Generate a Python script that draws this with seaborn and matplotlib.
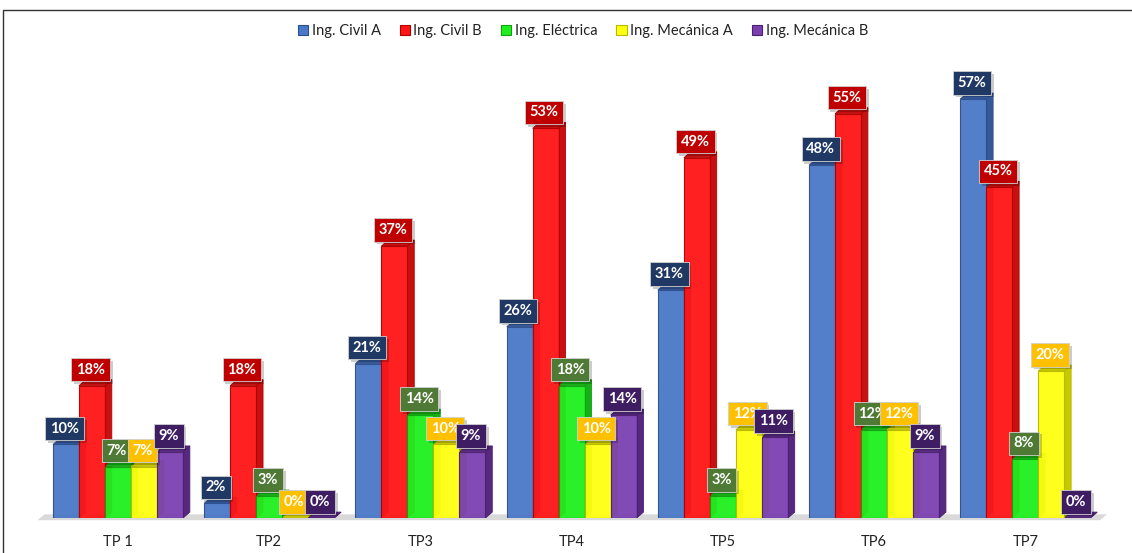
import numpy as np
import pandas as pd
import matplotlib
matplotlib.use("Agg")
import matplotlib.pyplot as plt
import matplotlib.patheffects as pe
from matplotlib.patches import Polygon, Rectangle, Patch
import seaborn as sns

# ---- data ----
categories = ["TP 1", "TP2", "TP3", "TP4", "TP5", "TP6", "TP7"]
series = ["Ing. Civil A", "Ing. Civil B", "Ing. Eléctrica", "Ing. Mecánica A", "Ing. Mecánica B"]
civil_a = [10, 2, 21, 26, 31, 48, 57]
civil_b = [18, 18, 37, 53, 49, 55, 45]
electrica = [7, 3, 14, 18, 3, 12, 8]
mecanica_a = [7, 0, 10, 10, 12, 12, 20]
mecanica_b = [9, 0, 9, 14, 11, 9, 0]

values = [civil_a, civil_b, electrica, mecanica_a, mecanica_b]
face_colors = ["#4A78C8", "#FF1515", "#1EF01E", "#FFFF10", "#7A40B0"]
side_colors = ["#34589A", "#C81010", "#15B015", "#C8C800", "#56287F"]
edge_colors = ["#2E4E8A", "#B00000", "#10A010", "#B8B800", "#4A2070"]
label_colors = ["#1F3864", "#C00000", "#4F7A35", "#FFC000", "#3F1D63"]

rows = []
for s, vals in zip(series, values):
    for c, v in zip(categories, vals):
        rows.append({"tp": c, "serie": s, "valor": v})
df = pd.DataFrame(rows)

sns.set_theme(style="white")
plt.rcParams["font.family"] = ["Lato", "DejaVu Sans"]

W, H = 1132, 553
fig = plt.figure(figsize=(W / 100, H / 100), dpi=100)
ax = fig.add_axes([30 / W, 1 - 518 / H, (1110 - 30) / W, (518 - 60) / H])

sns.barplot(data=df, x="tp", y="valor", hue="serie", hue_order=series,
            order=categories, palette=face_colors, saturation=1, width=0.86,
            ax=ax, legend=False, zorder=3)

ax.set_xlim(-0.582, 6.56)
ax.set_ylim(0, 62.3)

dx, dy = 0.045, 0.8
# floor
x0f, x1f = ax.get_xlim()
ax.add_patch(Polygon([(x0f + 0.05, -0.3), (x0f + 0.05 + dx, dy - 0.3), (x1f - 0.02, dy - 0.3), (x1f - 0.02 - dx, -0.3)],
                     closed=True, facecolor="#D9D9D9", edgecolor="none", zorder=0.5, clip_on=False))

shadow = [pe.withSimplePatchShadow(offset=(2, -2), shadow_rgbFace="#000000", alpha=0.2)]

for k, cont in enumerate(ax.containers):
    for p, v in zip(cont.patches, values[k]):
        p.set_edgecolor(edge_colors[k])
        p.set_linewidth(0.8)
        p.set_alpha(0.95)
        bx0 = p.get_x()
        bx1 = bx0 + p.get_width()
        h = p.get_height()
        side = Polygon([(bx1, 0), (bx1 + dx, dy), (bx1 + dx, h + dy), (bx1, h)], closed=True,
                       facecolor=side_colors[k], edgecolor=edge_colors[k], linewidth=0.6, zorder=1)
        top = Polygon([(bx0, h), (bx0 + dx, h + dy), (bx1 + dx, h + dy), (bx1, h)], closed=True,
                      facecolor=side_colors[k], edgecolor=edge_colors[k], linewidth=0.6, zorder=1.5)
        ax.add_patch(side)
        ax.add_patch(top)
        cx = bx0 + p.get_width() / 2
        t = ax.annotate(f"{v}%", (cx, h), xytext=(-1, 11.5), textcoords="offset points",
                        ha="center", va="center", color="white", fontsize=10.5, fontweight="bold",
                        bbox=dict(boxstyle="square,pad=0.32", facecolor=label_colors[k],
                                  edgecolor="#D0D0D0", linewidth=0.6),
                        zorder=5, annotation_clip=False)
        t.get_bbox_patch().set_path_effects(shadow)

ax.set_xlabel("")
ax.set_ylabel("")
ax.set_yticks([])
ax.tick_params(axis="x", length=0, pad=12, labelsize=10.5, labelcolor="#222222")
for s in ax.spines.values():
    s.set_visible(False)
ax.set_facecolor("none")

# legend
handles = [Patch(facecolor=fc, edgecolor=ec, linewidth=0.8) for fc, ec in zip(face_colors, edge_colors)]
fig.legend(handles, series, loc="center", bbox_to_anchor=(0.515, 1 - 31 / H), ncol=5, frameon=False,
           fontsize=10.5, handlelength=0.7, handleheight=0.7, handletextpad=0.25, columnspacing=1.3,
           labelcolor="#222222")

# outer frame
fig.patches.append(Rectangle((3 / W, -0.05), 1.2, 1 - 10 / H + 0.05, transform=fig.transFigure,
                             facecolor="none", edgecolor="#333333", linewidth=1.0, zorder=0))

fig.savefig("out.png", dpi=100)
